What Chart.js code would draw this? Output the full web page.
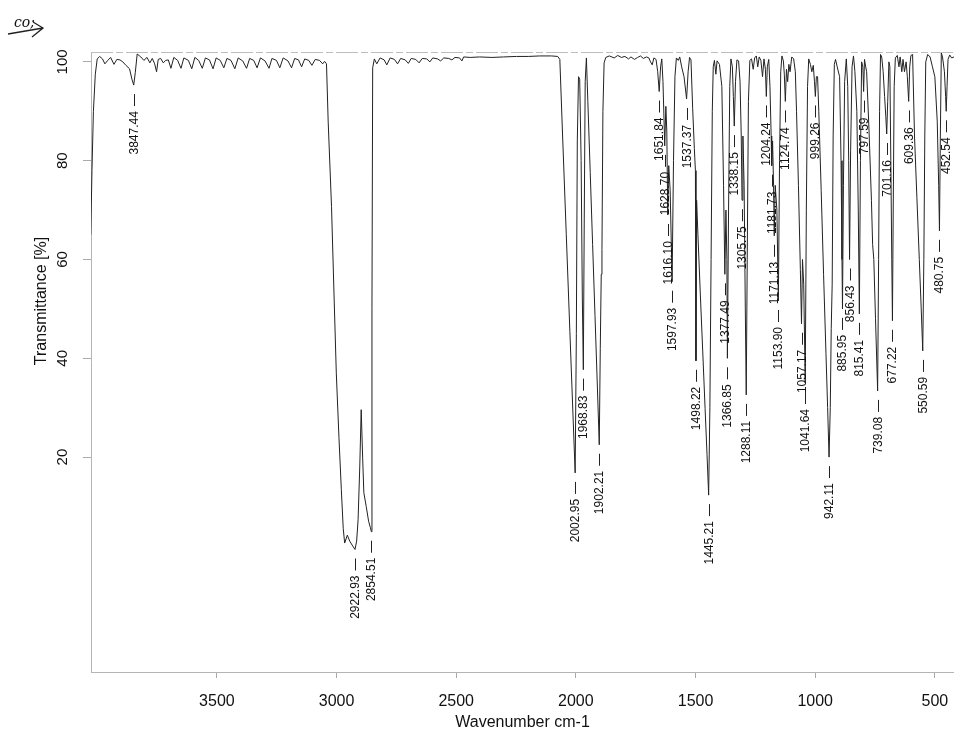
<!DOCTYPE html>
<html>
<head>
<meta charset="utf-8">
<title>IR spectrum</title>
<script src="https://cdn.jsdelivr.net/npm/chart.js@4.4.1/dist/chart.umd.min.js"></script>
<style>
  html, body { margin: 0; padding: 0; background: #fff; overflow: hidden; }
  #wrap { width: 954px; height: 733px; }
</style>
</head>
<body>
<div id="wrap"><canvas id="chart" width="954" height="733"></canvas></div>
<script>
// [wavenumber cm-1, transmittance %]
const spectrumHigh = [
  [4027, 65], [4022, 78], [4016, 90], [4008, 97.5], [4000, 100.6], [3990, 101.1], [3978, 100.6], [3968, 99.6],
  [3956, 100.3], [3944, 100.9], [3930, 99.5], [3918, 100.5], [3905, 100.4], [3893, 100.0], [3880, 99.3], [3865, 98.6],
  [3855, 96.5], [3847.44, 95.3], [3841, 97.8], [3833, 101.6], [3818, 101.0], [3805, 100.3], [3792, 100.9], [3780, 99.8],
  [3770, 100.7], [3760, 99.6], [3752, 98.0], [3745, 100.5], [3735, 100.7], [3724, 99.8], [3714, 100.3], [3703, 100.4],
  [3692, 98.7], [3680, 100.9], [3664, 100.3], [3650, 98.7], [3638, 100.8], [3619, 100.3], [3605, 98.6], [3592, 100.9],
  [3576, 100.3], [3561, 98.7], [3548, 100.8], [3531, 100.4], [3516, 98.6], [3503, 100.8], [3486, 100.3], [3471, 98.8],
  [3458, 100.7], [3441, 100.3], [3425, 98.6], [3411, 100.8], [3392, 100.2], [3376, 98.7], [3363, 100.7], [3346, 100.3],
  [3332, 98.8], [3318, 100.8], [3299, 100.2], [3282, 98.7], [3270, 100.7], [3251, 100.3], [3237, 98.8], [3223, 100.8],
  [3203, 100.2], [3188, 98.8], [3175, 100.7], [3159, 100.4], [3146, 99.0], [3133, 100.6], [3116, 100.3], [3103, 99.3],
  [3089, 100.5], [3071, 100.3], [3058, 99.6], [3050, 100.1], [3042, 99.6],
  [3035, 88], [3021, 70.7], [3010, 52], [3001, 37], [2990, 24], [2980, 13.4], [2972, 5.5], [2966, 2.6],
  [2955, 4.2], [2945, 3.0], [2935, 2.2], [2922.93, 1.3], [2916, 3.0], [2910, 7.3], [2903, 18], [2897, 29.6],
  [2891, 20], [2886, 12.8], [2876, 10], [2866, 7.0], [2859, 5.8], [2854.51, 4.9], [2852, 50], [2849, 98.8],
  [2842, 100.6], [2832, 99.6], [2818, 100.8], [2801, 100.4], [2790, 99.4], [2776, 100.8], [2758, 100.5], [2745, 99.6],
  [2732, 100.7], [2713, 100.4], [2700, 99.7], [2688, 100.7], [2669, 100.5], [2655, 99.8], [2642, 100.7], [2623, 100.6],
  [2610, 100.0], [2598, 100.8], [2578, 100.6], [2565, 100.2], [2552, 100.8], [2531, 100.7], [2518, 100.4], [2505, 100.9],
  [2486, 100.8], [2476, 100.2], [2469, 101.0], [2441, 100.9], [2402, 101.0], [2351, 100.9], [2302, 101.0], [2248, 101.1],
  [2199, 101.1], [2152, 101.2], [2101, 101.2], [2076, 101.1], [2067, 100.5]
];

const spectrumMid = [
  [2055, 84.4], [2040, 65], [2025, 45.4], [2012, 28.5], [2002.95, 16.8], [1998, 45], [1994, 84], [1989, 97],
  [1984, 96.5], [1978, 80], [1973, 52], [1968.83, 37.7], [1965, 68], [1961, 96], [1956, 100.8], [1950, 92],
  [1940, 77.6], [1930, 63], [1920, 48.6], [1910, 34], [1902.21, 22.5], [1898, 42], [1894, 57], [1891, 62],
  [1887, 90], [1882, 99.8], [1875, 100.9], [1860, 101.2], [1840, 100.8], [1825, 101.3], [1810, 100.9], [1795, 101.1],
  [1780, 100.6], [1770, 101.0], [1755, 100.5], [1742, 100.9], [1730, 101.2], [1718, 100.7], [1705, 101.0], [1695, 100.8],
  [1688, 100.0], [1681, 99.4], [1674, 100.8], [1665, 100.5], [1658, 98], [1651.84, 94], [1646, 99], [1641, 100.6],
  [1636, 96], [1628.70, 83], [1624, 91], [1620, 86], [1616.10, 69], [1612, 79], [1606, 74], [1597.93, 55.5],
  [1592, 80], [1586, 97], [1580, 100.8], [1572, 100.3], [1566, 101], [1558, 99], [1548, 97], [1537.37, 92.5],
  [1531, 98], [1525, 100.9], [1519, 100.4], [1512, 90.6], [1505, 82.5], [1500.5, 78], [1498.22, 39.5], [1495.5, 72],
  [1490, 65], [1480, 53], [1470, 41.5], [1460, 29.8], [1452, 20.5], [1445.21, 12.3], [1440, 30], [1435, 60],
  [1430, 90], [1426, 99], [1421, 100.3], [1415, 97.5], [1410, 100.2], [1400, 99.5], [1390, 95], [1383, 75],
  [1377.49, 57], [1373, 70], [1369, 60], [1366.85, 40], [1362, 70], [1357, 95], [1352, 100.6], [1346, 99],
  [1342, 93], [1338.15, 87], [1333, 96], [1327, 100.4], [1320, 100.2], [1314, 96], [1309, 85], [1305.75, 72],
  [1302, 85], [1297, 75], [1292, 50], [1288.11, 32.6], [1284, 60], [1279, 92], [1273, 100.3], [1266, 100.6],
  [1259, 98.5], [1253, 100.8], [1246, 101.2], [1240, 99], [1234, 101], [1227, 100.3], [1220, 97], [1214, 100.6],
  [1208, 98.5], [1204.24, 93], [1200, 99], [1194, 100.5], [1189, 95], [1184, 85], [1181.73, 79], [1178, 84],
  [1174, 75], [1171.13, 64.8], [1167, 75], [1160, 70], [1153.90, 51.6], [1149, 80], [1144, 98], [1139, 101.2],
  [1133, 100.2], [1129, 97.5], [1124.74, 92], [1120, 98.5], [1115, 96], [1110, 99.5], [1105, 98]
];

const spectrumLow = [
  [1098, 101.0], [1090, 100.6], [1083, 98], [1078, 90], [1070, 75], [1062, 58], [1057.17, 47], [1053, 60],
  [1048, 55], [1041.64, 35], [1037, 70], [1032, 95], [1027, 100.6], [1020, 99.5], [1014, 98], [1008, 99.3],
  [1003, 96], [999.26, 93], [995, 97], [990, 97], [985, 90], [975, 74], [965, 57], [955, 41],
  [948, 30], [942.11, 20], [937, 30], [933, 46], [929, 55], [925, 85], [920, 99.5], [915, 100.5],
  [908, 99], [898, 97], [892, 80], [888, 60], [885.95, 50], [882, 75], [877, 96], [870, 100.6],
  [864, 95], [860, 80], [856.43, 60], [852, 82], [846, 99], [840, 101.2], [834, 98], [826, 90],
  [820, 70], [815.41, 49], [811, 80], [806, 100], [801, 99], [797.59, 94], [794, 100.5], [789, 99],
  [785, 98], [775, 86], [765, 72], [760, 63], [755, 60], [748, 48], [739.08, 33.4], [735, 60],
  [731, 90], [727, 101.5], [722, 101.0], [716, 98], [710, 93], [705, 89], [701.16, 85.4], [697, 92],
  [692, 100], [688, 99], [684, 80], [680, 60], [677.22, 47.6], [674, 70], [670, 95], [665, 100.8],
  [657, 101.3], [650, 99], [645, 101], [638, 98], [633, 100.5], [627, 98], [620, 100], [615, 97],
  [609.36, 92], [605, 99], [600, 101.3], [593, 101.5], [585, 85], [575, 72.5], [565, 60], [557, 50],
  [550.59, 41.5], [546, 60], [542, 85], [538, 100], [530, 101.5], [520, 101], [510, 99], [500, 97],
  [490, 88], [484, 75], [480.75, 65.8], [477, 85], [473, 101.8], [468, 101], [460, 98], [455, 93],
  [452.54, 90], [449, 95], [445, 100.5], [438, 101.4], [430, 100.8], [420, 101.0]
];

// labelled peak positions
const peakWavenumbers = [
  3847.44, 2922.93, 2854.51, 2002.95, 1968.83, 1902.21, 1651.84, 1628.70, 1616.10, 1597.93,
  1537.37, 1498.22, 1445.21, 1377.49, 1366.85, 1338.15, 1305.75, 1288.11, 1204.24, 1181.73,
  1171.13, 1153.90, 1124.74, 1057.17, 1041.64, 999.26, 942.11, 885.95, 856.43, 815.41,
  797.59, 739.08, 701.16, 677.22, 609.36, 550.59, 480.75, 452.54
];

const xTicks = [3500, 3000, 2500, 2000, 1500, 1000, 500];
const yTicks = [20, 40, 60, 80, 100];

const spectrum = [...spectrumHigh, ...spectrumMid, ...spectrumLow];
const FONT = '"Liberation Sans", Arial, sans-serif';

// texts the library does not place the way the scan does
const annotate = {
  id: 'annotate',
  afterDraw(chart) {
    const { ctx, chartArea: area, scales: { x, y } } = chart;
    ctx.save();

    // faint top frame
    ctx.strokeStyle = '#bdbdbd';
    ctx.lineWidth = 1;
    ctx.setLineDash([22, 3, 7, 3]);
    ctx.beginPath();
    ctx.moveTo(area.left, area.top + 0.5);
    ctx.lineTo(area.right, area.top + 0.5);
    ctx.stroke();
    ctx.setLineDash([]);

    // y tick labels, turned like the scan
    ctx.fillStyle = '#111';
    ctx.textAlign = 'center';
    ctx.textBaseline = 'middle';
    ctx.font = '15px ' + FONT;
    yTicks.forEach(v => {
      ctx.save();
      ctx.translate(63, y.getPixelForValue(v));
      ctx.rotate(-Math.PI / 2);
      ctx.fillText(String(v), 0, 0);
      ctx.restore();
    });

    // y title
    ctx.font = '16px ' + FONT;
    ctx.save();
    ctx.translate(42, 301);
    ctx.rotate(-Math.PI / 2);
    ctx.fillText('Transmittance [%]', 0, 0);
    ctx.restore();

    // peak labels under each band
    ctx.font = '12px ' + FONT;
    ctx.textAlign = 'right';
    ctx.strokeStyle = '#222';
    peakWavenumbers.forEach(wn => {
      const pt = spectrum.find(p => p[0] === wn);
      const px = Math.round(x.getPixelForValue(wn)) + 0.5;
      const py = y.getPixelForValue(pt[1]);
      ctx.beginPath();
      ctx.moveTo(px, py + 9);
      ctx.lineTo(px, py + 21);
      ctx.stroke();
      ctx.save();
      ctx.translate(px, py + 26);
      ctx.rotate(-Math.PI / 2);
      ctx.fillText(wn.toFixed(2), 0, 0);
      ctx.restore();
    });

    // handwritten note in the corner
    ctx.textAlign = 'left';
    ctx.textBaseline = 'alphabetic';
    ctx.font = 'italic 14px "DejaVu Serif", serif';
    ctx.fillText('co;', 14, 27);
    ctx.lineWidth = 1.3;
    ctx.beginPath();
    ctx.moveTo(8, 34);
    ctx.lineTo(43, 28);
    ctx.moveTo(33, 22);
    ctx.lineTo(43, 28);
    ctx.lineTo(32, 37);
    ctx.stroke();

    ctx.restore();
  }
};

const canvas = document.getElementById('chart').getContext('2d');

const chart = new Chart(canvas, {
  type: 'line',
  data: {
    datasets: [{
      data: spectrum.map(([w, t]) => ({ x: w, y: t })),
      borderColor: '#222',
      borderWidth: 1,
      pointRadius: 0,
      tension: 0,
      fill: false
    }]
  },
  options: {
    responsive: false,
    animation: false,
    layout: { padding: { top: 52, left: 0, right: 0, bottom: 0 } },
    plugins: {
      legend: { display: false },
      tooltip: { enabled: false }
    },
    scales: {
      x: {
        type: 'linear',
        reverse: true,
        min: 420,
        max: 4026,
        afterBuildTicks: s => { s.ticks = xTicks.map(v => ({ value: v })); },
        afterFit: s => {
          s.height = 61;
          s.paddingLeft = 0;
          s.paddingRight = 0;
        },
        ticks: {
          autoSkip: false,
          maxRotation: 0,
          padding: 14,
          color: '#111',
          font: { family: FONT, size: 16 },
          callback: v => String(v)
        },
        grid: { drawOnChartArea: false, tickLength: 6, tickColor: '#aaa' },
        border: { display: true, color: '#b5b5b5', dash: [14, 3, 5, 3] },
        title: {
          display: true,
          text: 'Wavenumber cm-1',
          color: '#111',
          font: { family: FONT, size: 16 },
          padding: { top: 0, bottom: 1 }
        }
      },
      y: {
        type: 'linear',
        min: -23.5,
        max: 102,
        afterBuildTicks: s => { s.ticks = yTicks.map(v => ({ value: v })); },
        afterFit: s => { s.width = 91; },
        ticks: { display: false },
        grid: { drawOnChartArea: false, tickLength: 8, tickColor: '#aaa' },
        border: { display: true, color: '#b5b5b5', dash: [14, 3, 5, 3] }
      }
    }
  },
  plugins: [annotate]
});
</script>
</body>
</html>
